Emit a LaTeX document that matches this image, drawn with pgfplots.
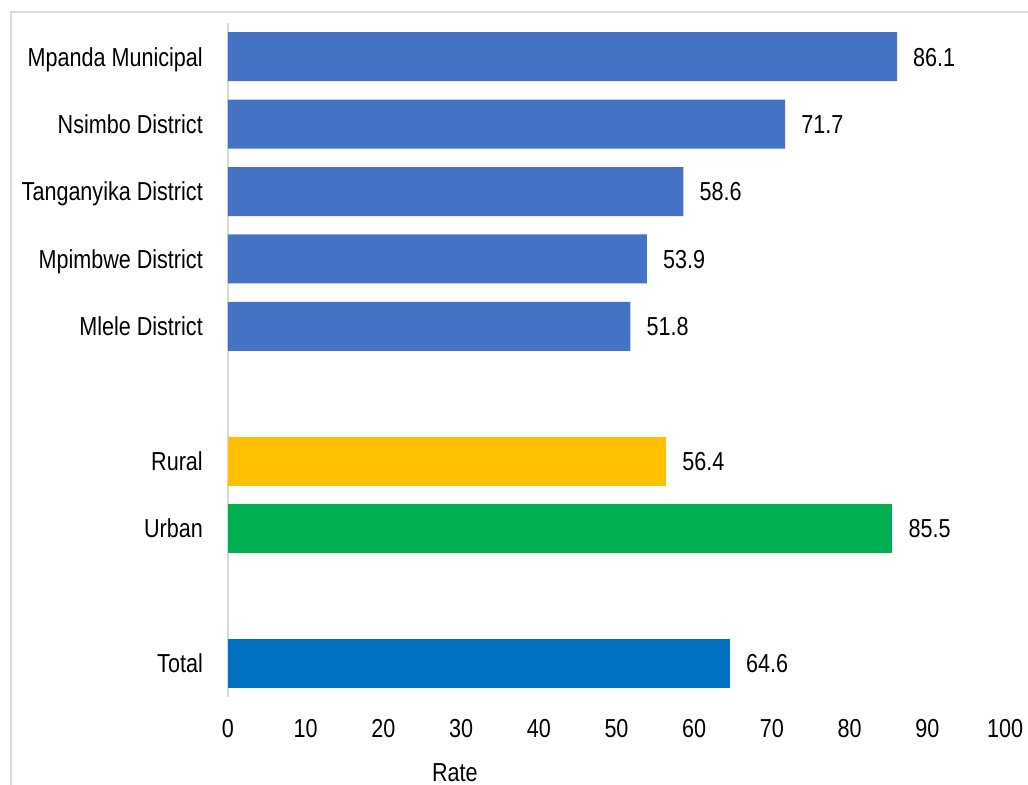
\documentclass[border=0pt]{standalone}
\usepackage{fontspec}
\setmainfont[FakeStretch=0.83]{Liberation Sans}
\usepackage{pgfplots}
\pgfplotsset{compat=1.18}
\definecolor{cdist}{HTML}{4472C4}
\definecolor{crural}{HTML}{FFC000}
\definecolor{curban}{HTML}{00B050}
\definecolor{ctotal}{HTML}{0070C0}
\definecolor{framegray}{HTML}{D9D9D9}
\newcommand{\myfont}{\fontsize{26bp}{31bp}\selectfont}
\begin{document}
\begin{tikzpicture}[font=\myfont]
\useasboundingbox (-228bp,-88bp) rectangle (800bp,697bp);
\draw[color=framegray, line width=1.5bp] (-217bp,-150bp) -- (-217bp,685bp) -- (900bp,685bp);
\begin{axis}[
  at={(0,0)}, anchor=south west,
  scale only axis, width=777bp, height=674bp,
  xbar, bar width=49bp, bar shift=0pt,
  xmin=0, xmax=100, ymin=0.5, ymax=10.5,
  y dir=reverse,
  enlargelimits=false,
  xtick={0,10,...,100},
  ytick={1,2,3,4,5,7,8,10},
  yticklabels={Mpanda Municipal, Nsimbo District, Tanganyika District, Mpimbwe District, Mlele District, Rural, Urban, Total},
  axis x line*=bottom, axis y line*=left,
  x axis line style={draw=none},
  y axis line style={draw=framegray, line width=1.5bp},
  major tick length=0pt, tick style={draw=none},
  /pgf/number format/assume math mode=true,
  tick label style={font=\myfont, text=black},
  xticklabel style={anchor=center, inner sep=0pt, yshift=-31bp, text height=18.6bp, text depth=0pt},
  yticklabel style={anchor=east, inner sep=0pt, xshift=-25bp, text height=18.6bp, text depth=0pt},
  xlabel={Rate},
  xlabel style={at={(axis description cs:0.2921,-0.1113)}, anchor=center, font=\myfont, inner sep=0pt, text height=18.6bp, text depth=0pt},
  point meta=x,
  nodes near coords={\pgfmathprintnumber[fixed, fixed zerofill, precision=1]{\pgfplotspointmeta}},
  every node near coord/.append style={anchor=west, inner sep=0pt, xshift=16bp, font=\myfont, text=black, text height=18.6bp, text depth=0pt},
  clip=false,
]
\addplot[fill=cdist, draw=none] coordinates {(86.1,1) (71.7,2) (58.6,3) (53.9,4) (51.8,5)};
\addplot[fill=crural, draw=none] coordinates {(56.4,7)};
\addplot[fill=curban, draw=none] coordinates {(85.5,8)};
\addplot[fill=ctotal, draw=none] coordinates {(64.6,10)};
\end{axis}
\end{tikzpicture}
\end{document}
